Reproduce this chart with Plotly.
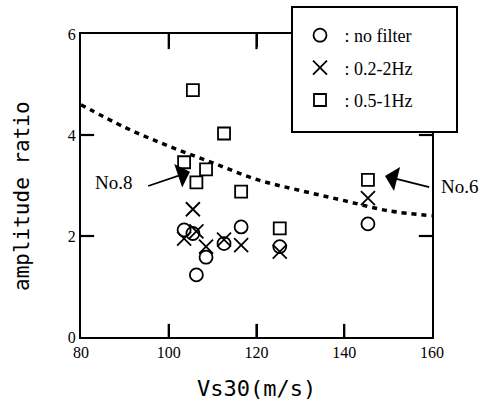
import plotly.graph_objects as go

# Site Vs30 values (m/s)
vs30 = [103.5, 105.5, 106.3, 108.5, 112.6, 116.5, 125.3, 145.4]
# amplitude ratios
no_filter = [2.12, 2.05, 1.23, 1.58, 1.85, 2.18, 1.79, 2.24]
band_02_2 = [1.95, 2.53, 2.09, 1.79, 1.93, 1.82, 1.69, 2.75]
band_05_1 = [3.46, 4.89, 3.06, 3.32, 4.03, 2.88, 2.15, 3.11]

# dotted reference curve
curve_x = [80, 90, 100, 110, 120, 130, 140, 150, 160]
curve_y = [4.60, 4.15, 3.78, 3.45, 3.12, 2.90, 2.70, 2.50, 2.40]

x_ticks = [80, 100, 120, 140, 160]
y_ticks = [0, 2, 4, 6]

serif = "Liberation Serif"
mono = "DejaVu Sans Mono"

fig = go.Figure()

# inside tick marks, one short segment trace per tick (built from the tick lists)
xlo, xhi, ylo, yhi = x_ticks[0], x_ticks[-1], y_ticks[0], y_ticks[-1]
tick_style = dict(color="black", width=2.2)
for v in x_ticks[1:-1]:
    fig.add_trace(go.Scatter(x=[v, v], y=[ylo, ylo + 0.26], mode="lines",
                             line=tick_style, showlegend=False, hoverinfo="skip",
                             cliponaxis=False))
    fig.add_trace(go.Scatter(x=[v, v], y=[yhi, yhi - 0.30], mode="lines",
                             line=tick_style, showlegend=False, hoverinfo="skip",
                             cliponaxis=False))
for v in y_ticks[1:-1]:
    fig.add_trace(go.Scatter(x=[xlo, xlo + 3.0], y=[v, v], mode="lines",
                             line=tick_style, showlegend=False, hoverinfo="skip",
                             cliponaxis=False))
    fig.add_trace(go.Scatter(x=[xhi, xhi - 3.0], y=[v, v], mode="lines",
                             line=tick_style, showlegend=False, hoverinfo="skip",
                             cliponaxis=False))

fig.add_trace(go.Scatter(x=curve_x, y=curve_y, mode="lines", showlegend=False,
                         line=dict(color="black", width=3.5, dash="5px,5px", shape="spline"),
                         hoverinfo="skip"))

fig.add_trace(go.Scatter(x=vs30, y=no_filter, mode="markers", name=" : no filter",
                         legendgroup="a",
                         marker=dict(symbol="circle-open", size=13, color="black",
                                     line=dict(width=1.8, color="black"))))
fig.add_trace(go.Scatter(x=vs30, y=band_02_2, mode="markers", name=" : 0.2-2Hz",
                         legendgroup="b",
                         marker=dict(symbol="x-thin-open", size=14, color="black",
                                     line=dict(width=1.8, color="black"))))
fig.add_trace(go.Scatter(x=vs30, y=band_05_1, mode="markers", name=" : 0.5-1Hz",
                         legendgroup="c",
                         marker=dict(symbol="square-open", size=12, color="black",
                                     line=dict(width=1.8, color="black"))))

fig.update_xaxes(range=[80, 160], tickmode="array", tickvals=x_ticks,
                 ticktext=[str(v) for v in x_ticks],
                 showline=True, linecolor="black", linewidth=2, mirror="allticks",
                 ticks="inside", ticklen=13, tickwidth=2, tickcolor="black",
                 showgrid=False, zeroline=False,
                 tickfont=dict(family=serif, size=16, color="black"))
fig.update_yaxes(range=[0, 6], tickmode="array", tickvals=y_ticks,
                 ticktext=[str(v) for v in y_ticks],
                 showline=True, linecolor="black", linewidth=2, mirror="allticks",
                 ticks="inside", ticklen=13, tickwidth=2, tickcolor="black",
                 showgrid=False, zeroline=False,
                 tickfont=dict(family=serif, size=16, color="black"))

# legend box
fig.add_shape(type="rect", xref="paper", yref="paper",
              x0=(292 - 81) / 351, x1=(457 - 81) / 351,
              y0=(337 - 132) / 303, y1=(337 - 7) / 303,
              line=dict(color="black", width=2), fillcolor="white", layer="above")

annotations = [
    dict(x=0.5, y=-0.17, xref="paper", yref="paper", text="Vs30(m/s)", showarrow=False,
         xanchor="center", yanchor="middle",
         font=dict(family=mono, size=22, color="black")),
    dict(x=(22 - 81) / 351, y=(337 - 196) / 303, xref="paper", yref="paper",
         text="amplitude ratio", showarrow=False, textangle=-90,
         xanchor="center", yanchor="middle",
         font=dict(family=mono, size=21, color="black")),
    dict(x=87.3, y=3.05, xref="x", yref="y", text="No.8", showarrow=False,
         xanchor="center", yanchor="middle",
         font=dict(family=serif, size=19, color="black")),
    dict(x=(459 - 81) / 351, y=(337 - 186) / 303, xref="paper", yref="paper", text="No.6",
         showarrow=False, xanchor="center", yanchor="middle",
         font=dict(family=serif, size=19, color="black")),
    dict(x=104.84, y=3.27, ax=94.97, ay=2.98, xref="x", yref="y", axref="x", ayref="y",
         text="", showarrow=True, arrowhead=1, arrowwidth=1.8, arrowsize=2.3,
         arrowcolor="black", standoff=0),
    dict(x=149.29, y=3.19, ax=159.7, ay=2.96, xref="x", yref="y", axref="x", ayref="y",
         text="", showarrow=True, arrowhead=1, arrowwidth=1.8, arrowsize=2.3,
         arrowcolor="black", standoff=0),
]

fig.update_layout(
    template="none",
    width=480, height=405,
    margin=dict(l=81, r=48, t=34, b=68),
    plot_bgcolor="white", paper_bgcolor="white",
    showlegend=True,
    legend=dict(x=(300 - 81) / 351, y=(337 - 17) / 303, xanchor="left", yanchor="top",
                bgcolor="rgba(0,0,0,0)", borderwidth=0, tracegroupgap=6,
                font=dict(family=serif, size=18, color="black")),
    annotations=annotations,
)

fig.write_html("out.html")
